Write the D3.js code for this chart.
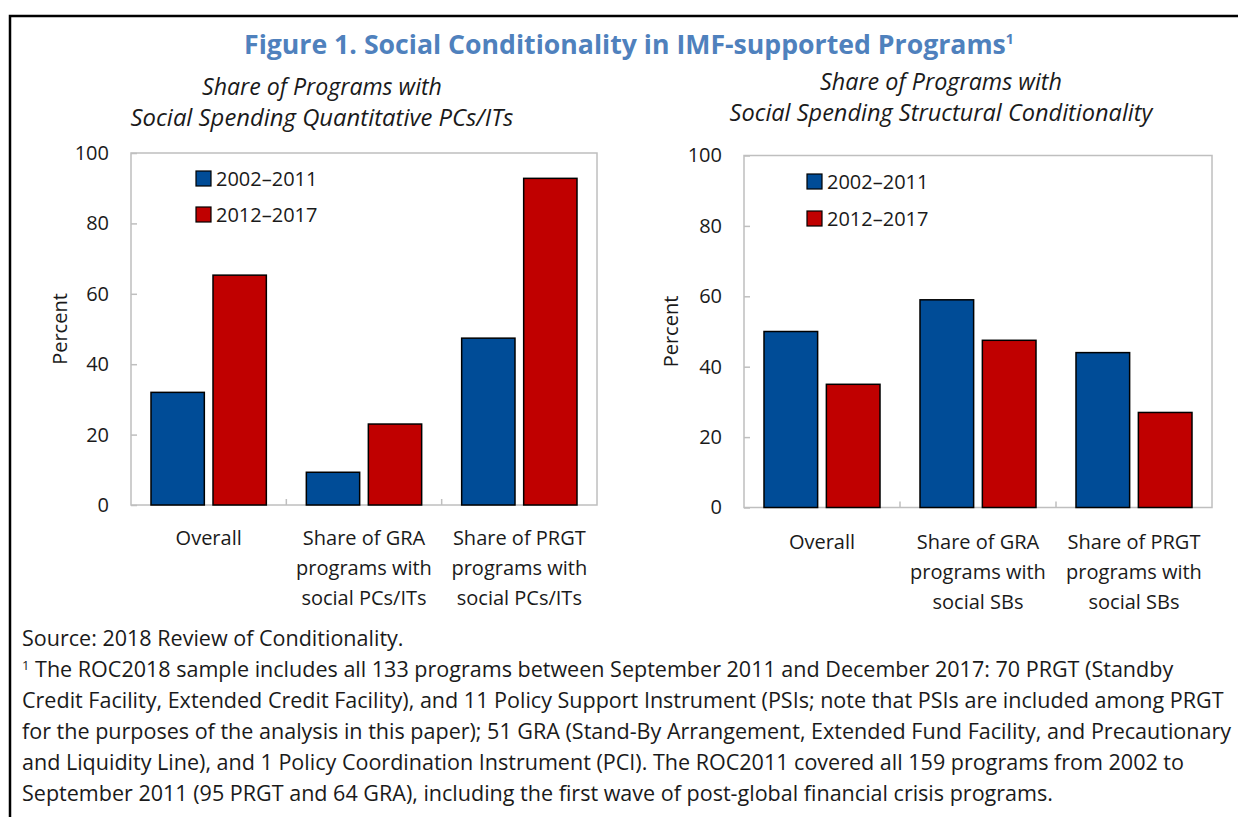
<!DOCTYPE html>
<html>
<head>
<meta charset="utf-8">
<script src="https://cdn.jsdelivr.net/npm/d3@7"></script>
<style>
  body { margin: 0; background: #fff; }
  text { font-family: "Open Sans", "Noto Sans", sans-serif; fill: #1a1a1a; }
</style>
</head>
<body>
<script>
// data
var years = ["2002–2011", "2012–2017"];
var yTicks = [0, 20, 40, 60, 80, 100];

var leftCategories = [["Overall"], ["Share of GRA", "programs with", "social PCs/ITs"], ["Share of PRGT", "programs with", "social PCs/ITs"]];
var leftEarly = [32, 9.3, 47.4];
var leftLate = [65.3, 23, 92.8];

var rightCategories = [["Overall"], ["Share of GRA", "programs with", "social SBs"], ["Share of PRGT", "programs with", "social SBs"]];
var rightEarly = [50, 59, 44];
var rightLate = [35, 47.5, 27];

var footnotes = [
  "Source: 2018 Review of Conditionality.",
  "The ROC2018 sample includes all 133 programs between September 2011 and December 2017: 70 PRGT (Standby",
  "Credit Facility, Extended Credit Facility), and 11 Policy Support Instrument (PSIs; note that PSIs are included among PRGT",
  "for the purposes of the analysis in this paper); 51 GRA (Stand-By Arrangement, Extended Fund Facility, and Precautionary",
  "and Liquidity Line), and 1 Policy Coordination Instrument (PCI). The ROC2011 covered all 159 programs from 2002 to",
  "September 2011 (95 PRGT and 64 GRA), including the first wave of post-global financial crisis programs."
];

var colors = ["#004C97", "#C00000"];

var width = 1238, height = 817;
var svg = d3.select("body").append("svg")
    .attr("width", width)
    .attr("height", height);

// size a text so it spans the wanted width
function fitText(sel, target) {
  var base = 20;
  sel.attr("font-size", base);
  var w = sel.node().getComputedTextLength();
  var size = base * target / w;
  sel.attr("font-size", size);
  return size;
}

// outer frame (top and left only)
svg.append("path")
    .attr("d", "M10,817 V16 H1238")
    .attr("fill", "none")
    .attr("stroke", "#000")
    .attr("stroke-width", 2.5);

var title = svg.append("text")
    .attr("x", 244).attr("y", 54)
    .attr("font-weight", "bold")
    .style("fill", "#4F81BD");
title.append("tspan").text("Figure 1. Social Conditionality in IMF-supported Programs");
fitText(title, 762);
title.append("tspan").text("1")
    .attr("font-size", 14)
    .attr("dy", -10);

function panel(p) {
  var g = svg.append("g");

  var x = d3.scaleBand().domain(d3.range(p.cats.length)).range([p.x0, p.x1]);
  var xi = d3.scaleBand().domain(years).range([20, x.bandwidth() - 20]).paddingInner(0.14);
  var y = d3.scaleLinear().domain([0, 100]).range([p.y1, p.y0]);

  // subtitle
  p.sub.forEach(function(s, i) {
    var t = g.append("text")
        .attr("x", p.subX).attr("y", p.subY[i])
        .attr("text-anchor", "middle")
        .attr("font-style", "italic")
        .text(s);
    fitText(t, p.subW[i]);
  });

  // frame
  g.append("rect")
      .attr("x", p.x0).attr("y", p.y0)
      .attr("width", p.x1 - p.x0).attr("height", p.y1 - p.y0)
      .attr("fill", "none")
      .attr("stroke", "#BFBFBF")
      .attr("stroke-width", 1.5);

  // y axis
  var ya = g.append("g")
      .attr("transform", "translate(" + p.x0 + ",0)")
      .call(d3.axisLeft(y).tickValues(yTicks).tickSize(-6).tickPadding(22));
  ya.select(".domain").remove();
  ya.selectAll("line").attr("stroke", "#BFBFBF").attr("stroke-width", 1.5);
  ya.selectAll("text").attr("font-size", 20).attr("font-family", null).style("fill", "#1a1a1a");

  // category separators
  g.selectAll(".sep").data(d3.range(1, p.cats.length)).join("line")
      .attr("x1", function(d) { return x(d); }).attr("x2", function(d) { return x(d); })
      .attr("y1", p.y1).attr("y2", p.y1 - 6)
      .attr("stroke", "#BFBFBF").attr("stroke-width", 1.5);

  // bars
  var series = [p.early, p.late];
  years.forEach(function(yr, s) {
    g.selectAll(".bar" + s).data(series[s]).join("rect")
        .attr("x", function(d, i) { return x(i) + xi(yr); })
        .attr("y", function(d) { return y(d); })
        .attr("width", xi.bandwidth())
        .attr("height", function(d) { return y(0) - y(d); })
        .attr("fill", colors[s])
        .attr("stroke", "#000")
        .attr("stroke-width", 1.5);
  });

  // category labels
  p.cats.forEach(function(lines, i) {
    var t = g.append("text")
        .attr("x", x(i) + x.bandwidth() / 2)
        .attr("y", p.catY)
        .attr("text-anchor", "middle")
        .attr("font-size", 20);
    lines.forEach(function(l, j) {
      t.append("tspan")
          .attr("x", x(i) + x.bandwidth() / 2)
          .attr("dy", j === 0 ? 0 : 30)
          .text(l);
    });
  });

  // y label
  g.append("text")
      .attr("transform", "translate(" + p.labelX + "," + ((p.y0 + p.y1) / 2) + ") rotate(-90)")
      .attr("text-anchor", "middle")
      .attr("font-size", 20)
      .text("Percent");

  // legend
  years.forEach(function(yr, s) {
    g.append("rect")
        .attr("x", p.legX).attr("y", p.legY[s])
        .attr("width", 15).attr("height", 15)
        .attr("fill", colors[s])
        .attr("stroke", "#000")
        .attr("stroke-width", 1.2);
    g.append("text")
        .attr("x", p.legX + 20).attr("y", p.legY[s] + 14.5)
        .attr("font-size", 20)
        .text(yr);
  });
}

panel({
  x0: 131, x1: 597, y0: 153, y1: 505,
  cats: leftCategories, early: leftEarly, late: leftLate,
  sub: ["Share of Programs with", "Social Spending Quantitative PCs/ITs"],
  subX: 322, subY: [95, 126], subW: [240, 383],
  labelX: 67, catY: 545,
  legX: 196, legY: [171, 207]
});

panel({
  x0: 744, x1: 1212, y0: 155.5, y1: 507.5,
  cats: rightCategories, early: rightEarly, late: rightLate,
  sub: ["Share of Programs with", "Social Spending Structural Conditionality"],
  subX: 941, subY: [90, 121], subW: [242, 423],
  labelX: 678, catY: 549,
  legX: 807, legY: [174, 211]
});

// notes: one size for every line, taken from the widest one
var probe = svg.append("text").text(footnotes[3]);
var noteSize = fitText(probe, 1210);
probe.remove();

footnotes.forEach(function(n, i) {
  var t = svg.append("text")
      .attr("x", 22)
      .attr("y", 646 + i * 31)
      .attr("font-size", noteSize);
  if (i === 1) {
    t.append("tspan").text("1").attr("dy", -7).attr("font-size", 13);
    t.append("tspan").text(" " + n).attr("dy", 7);
  } else {
    t.text(n);
  }
});
</script>
</body>
</html>
